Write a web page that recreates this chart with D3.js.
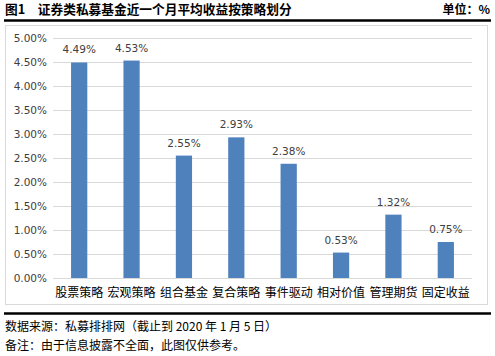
<!DOCTYPE html>
<html><head><meta charset="utf-8">
<script src="https://cdn.jsdelivr.net/npm/d3@7"></script>
<style>body{margin:0;background:#fff;}svg{display:block;}</style>
</head><body>
<script>
const categories = ["股票策略","宏观策略","组合基金","复合策略","事件驱动","相对价值","管理期货","固定收益"];
const values = [4.49, 4.53, 2.55, 2.93, 2.38, 0.53, 1.32, 0.75];
const yTicks = [0,0.5,1,1.5,2,2.5,3,3.5,4,4.5,5];
const titleText = "图1　证券类私募基金近一个月平均收益按策略划分";
const unitText = "单位：%";
const sourceText = "数据来源：私募排排网（截止到 2020 年 1 月 5 日）";
const noteText = "备注：由于信息披露不全面，此图仅供参考。";

const W = 495, H = 356;
const svg = d3.select("body").append("svg").attr("width", W).attr("height", H);
const cjk = "'Noto Sans CJK SC','Microsoft YaHei',sans-serif";
const lat = "'DejaVu Sans','Noto Sans',sans-serif";

// title
svg.append("text").attr("x", 5).attr("y", 14).text(titleText)
  .attr("font-family", cjk).attr("font-weight", "bold").attr("font-size", 12.7).attr("fill", "#000");
svg.append("text").attr("x", 490).attr("y", 14).attr("text-anchor", "end").text(unitText)
  .attr("font-family", cjk).attr("font-weight", "bold").attr("font-size", 12).attr("fill", "#000");
svg.append("line").attr("x1", 4).attr("x2", 491).attr("y1", 20.5).attr("y2", 20.5)
  .attr("stroke", "#000").attr("stroke-width", 2.5);

// chart box
svg.append("rect").attr("x", 5.5).attr("y", 25.5).attr("width", 482).attr("height", 279)
  .attr("fill", "#fff").attr("stroke", "#d9d9d9").attr("stroke-width", 1);

const x = d3.scaleBand().domain(categories).range([53, 472]).paddingInner(0.69).paddingOuter(0.345);
const y = d3.scaleLinear().domain([0, 5]).range([278, 38]);

const g = svg.append("g");
g.selectAll("line.grid").data(yTicks).join("line").attr("class", "grid")
  .attr("x1", 53).attr("x2", 472)
  .attr("y1", d => Math.round(y(d)) + 0.5).attr("y2", d => Math.round(y(d)) + 0.5)
  .attr("stroke", "#d9d9d9").attr("stroke-width", 1);

const yAxis = d3.axisLeft(y).tickValues(yTicks).tickFormat(d => d.toFixed(2) + "%").tickSize(0).tickPadding(6);
const ya = svg.append("g").attr("transform", "translate(53,0)").call(yAxis);
ya.select(".domain").remove();
ya.selectAll("text").attr("font-family", lat).attr("font-size", 10.5).attr("fill", "#404040");

g.selectAll("rect.bar").data(values).join("rect").attr("class", "bar")
  .attr("x", (d, i) => x(categories[i])).attr("width", x.bandwidth())
  .attr("y", d => y(d)).attr("height", d => y(0) - y(d)).attr("fill", "#4f81bd");

g.selectAll("text.lbl").data(values).join("text").attr("class", "lbl")
  .attr("x", (d, i) => x(categories[i]) + x.bandwidth() / 2).attr("y", d => y(d) - 9)
  .attr("text-anchor", "middle").text(d => d.toFixed(2) + "%")
  .attr("font-family", lat).attr("font-size", 10.5).attr("fill", "#404040");

const xAxis = d3.axisBottom(x).tickSize(0).tickPadding(10);
const xa = svg.append("g").attr("transform", "translate(0,278)").call(xAxis);
xa.select(".domain").remove();
xa.selectAll("text").attr("font-family", cjk).attr("font-size", 12).attr("fill", "#000");

svg.append("line").attr("x1", 4).attr("x2", 491).attr("y1", 313.5).attr("y2", 313.5)
  .attr("stroke", "#000").attr("stroke-width", 2.5);

svg.append("text").attr("x", 5).attr("y", 331).text(sourceText)
  .attr("font-family", cjk).attr("font-size", 12).attr("fill", "#000");
svg.append("text").attr("x", 5).attr("y", 350).text(noteText)
  .attr("font-family", cjk).attr("font-size", 12).attr("fill", "#000");
</script>
</body></html>
